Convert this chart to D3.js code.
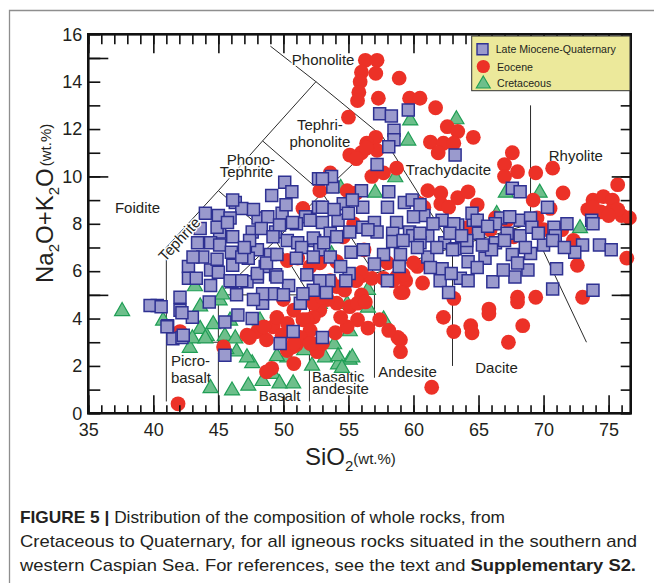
<!DOCTYPE html>
<html>
<head>
<meta charset="utf-8">
<script src="https://cdnjs.cloudflare.com/ajax/libs/d3/7.8.5/d3.min.js"></script>
<style>
  body { margin: 0; background: #fff; }
  svg { font-family: "Liberation Sans", Arial, Helvetica, sans-serif; }
</style>
</head>
<body>
<div id="root"></div>
<script>
// ---- data: [SiO2, Na2O+K2O] in wt.% ----
var miocenePts = [
  [57.4,12.65],[58.3,12.55],[59.6,12.8],[58.5,11.95],[58.5,11.55],[58.1,11.25],[57.2,10.5],[63.2,10.9],
  [52.7,9.9],[53.8,9.55],[53.7,10.0],[56.0,9.4],[58.1,9.35],[54.6,8.85],[56.1,8.7],[58.0,8.7],[59.3,8.9],
  [60.8,8.35],[62.2,8.15],[63.4,7.95],[64.6,8.15],[52.7,8.7],[51.7,8.3],[53.0,8.05],[54.2,8.15],[55.0,8.45],
  [56.1,7.85],[57.0,8.05],[58.7,8.05],[59.7,7.65],[58.4,7.6],[67.6,9.5],[68.2,9.35],[70.3,8.7],[73.7,8.15],
  [64.5,8.45],[64.9,8.15],[66.7,8.25],[68.2,8.15],[69.0,8.25],[70.8,7.85],[59.9,9.0],[66.3,8.0],[67.4,8.3],
  [70.9,7.5],[73.0,7.1],[74.3,7.1],[75.2,6.9],[72.4,6.8],[59.95,7.5],[61.1,7.5],[62.4,7.2],[63.2,6.95],
  [64.1,7.0],[65.0,7.6],[66.3,7.2],[67.2,7.6],[68.2,7.5],[69.1,7.85],[70.0,7.1],[70.7,7.3],[69.0,6.75],
  [67.6,6.7],[65.5,6.55],[64.2,6.4],[63.0,6.9],[61.1,6.6],[62.2,6.1],[62.05,5.6],[62.7,5.1],[66.1,5.55],
  [67.8,5.75],[68.8,6.05],[71.0,6.1],[70.7,5.25],[73.8,5.2],[58.0,5.6],[60.5,7.2],[58.4,7.25],[57.7,6.7],
  [64.9,6.15],[66.9,6.05],[68.0,6.35],[73.8,8.0],[55.2,6.8],[55.05,5.9],[53.5,5.6],[51.8,5.85],[52.4,7.3],
  [53.6,7.6],[60.5,7.6],[63.1,8.0],[64.1,7.3],[57.2,7.65],[63.6,5.7],[61.3,6.15],
  [50.1,9.75],[50.65,9.35],[49.1,9.2],[46.3,8.9],[46.8,8.65],[44.0,8.45],[45.0,8.35],[45.9,8.25],[48.05,8.25],
  [48.8,8.3],[49.9,8.45],[51.0,8.0],[52.05,8.15],[53.0,8.7],[53.0,9.9],[45.1,7.65],[46.1,7.45],[47.6,7.65],
  [49.4,7.65],[50.3,7.3],[51.1,7.2],[52.3,7.4],[52.8,6.9],[44.4,7.2],[45.1,7.1],[46.0,6.8],[48.0,6.9],
  [49.0,6.7],[43.8,6.6],[42.7,6.2],[42.7,5.7],[44.4,6.05],[46.1,6.25],[47.3,6.55],[48.6,6.2],[48.0,5.75],
  [49.4,5.85],[50.4,5.4],[52.8,5.6],[44.4,5.4],[46.05,5.55],[47.2,5.55],[46.4,5.0],[48.4,4.65],[49.2,5.05],
  [51.3,4.65],[52.3,5.2],[40.3,4.55],[39.75,4.55],[42.05,4.9],[42.05,4.35],[43.0,4.05],[41.1,3.7],[41.5,3.15],
  [42.2,3.2],[45.5,3.85],[46.5,4.15],[47.6,4.0],[45.5,2.45],[50.75,3.45],[49.75,2.95],[53.0,3.2],[43.6,7.8],
  [44.9,7.85],[45.7,8.05],[49.7,7.95],[50.7,8.05],[60.5,8.8],[43.05,6.6],[43.3,5.7],[45.0,5.95],[45.9,5.6],
  [46.8,6.6],[47.4,7.3],[48.3,7.8],[49.2,7.45],[51.4,7.0],[53.1,7.2],[54.1,7.45],[55.1,7.65],[56.5,7.75],
  [59.2,7.3],[46.8,5.6],[48.0,5.9],[48.7,6.35],[49.5,6.7],[51.0,6.55],[52.3,6.6],[56.15,6.9],[59.0,6.7],
  [60.3,7.0],[48.4,5.05],[49.5,5.75],[51.5,5.05],[42.2,4.25],[42.3,3.3],[41.05,3.65],[40.6,4.5],[46.1,9.0],
  [44.9,6.5],[47.0,7.0],[53.6,6.6],[54.4,6.2],[53.9,8.6],[55.3,9.0],[47.7,8.6],[50.2,8.8],[43.4,7.2],
  [44.3,4.7],[47.7,4.8],[50.0,5.0],[53.3,5.1],[54.8,5.6],[57.0,6.3],[58.9,6.2],[61.8,7.0],[62.8,7.6],
  [65.7,7.9],[66.0,6.9],[67.0,7.3],[68.6,7.0],[69.6,7.6],[71.6,7.0],[71.8,8.0],[65.3,7.1],[63.7,7.5],
  [61.5,8.0],[60.0,8.3],[62.9,5.9],[64.2,5.6]
];
var eocenePts = [
  [56.3,14.9],[57.2,14.9],[56.0,14.4],[57.1,14.35],[58.9,14.15],[55.9,14.0],[55.8,13.55],[55.7,13.2],
  [57.3,13.3],[59.7,13.3],[60.5,13.3],[61.7,12.9],[55.0,12.5],[62.6,12.1],[63.4,11.9],[64.6,11.65],
  [61.3,11.45],[62.3,11.4],[63.1,11.4],[61.9,11.0],[57.1,11.65],[56.4,11.4],[56.0,11.0],[55.1,10.9],
  [55.6,10.75],[57.2,11.1],[56.4,11.2],[58.7,10.35],[56.8,10.0],[57.7,10.15],[53.6,10.15],[52.8,9.4],
  [61.1,9.4],[62.1,9.3],[63.4,9.1],[64.2,9.35],[60.8,8.7],[62.1,8.85],[67.6,11.0],[67.0,10.5],[68.0,10.2],
  [69.4,10.15],[70.7,10.35],[67.0,10.0],[71.5,9.3],[75.7,9.65],[69.2,9.0],[73.8,9.0],[74.6,9.15],[75.3,9.0],
  [75.1,8.5],[76.0,8.35],[76.6,8.25],[73.4,8.6],[74.4,8.5],[76.4,6.55],[73.0,4.9],[69.4,4.9],[68.0,4.9],
  [68.0,4.7],[68.4,3.7],[67.3,3.0],[65.8,4.2],[64.4,3.7],[64.5,3.4],[63.1,4.85],[62.3,4.05],[63.1,3.45],
  [61.4,1.1],[59.0,2.6],[59.0,3.1],[58.8,3.2],[58.1,3.5],[56.0,5.8],[56.8,5.7],[58.7,5.75],[59.4,5.6],
  [59.2,5.1],[56.0,5.0],[57.4,3.95],[56.5,3.6],[55.7,3.95],[54.9,3.65],[54.0,3.4],[54.1,4.65],[53.4,4.8],
  [52.8,4.35],[52.3,4.05],[51.8,3.95],[55.1,4.5],[54.4,4.05],[52.6,2.65],[55.7,4.65],[56.3,4.7],[41.9,0.4],
  [47.2,3.3],[45.4,2.8],[48.0,3.45],[48.7,3.1],[49.1,1.9],[48.7,1.75],[50.8,2.1],[50.3,2.65],[51.0,2.9],
  [52.6,2.6],[53.0,2.95],[49.2,3.65],[49.9,3.3],[50.7,2.8],[52.2,2.95],[42.05,3.45],[50.0,4.8],[50.8,4.35],
  [51.5,3.95],[52.3,4.65],[53.0,4.9],[52.05,3.5],[51.3,3.2],[49.5,4.05],[50.3,3.8],[48.5,3.65],[50.3,6.45],
  [51.1,6.55],[52.8,6.35],[51.5,8.65],[54.9,9.4],[55.6,9.3],[55.4,8.0],[56.2,6.9],[56.0,5.95],[52.05,6.2],
  [54.1,5.35],[55.6,5.6],[57.7,5.7],[59.2,5.85],[60.3,6.2],[60.7,5.5],[62.7,8.7],[60.5,8.85],[73.8,8.7],
  [75.7,8.6],[75.0,8.35],[71.4,7.75],[72.3,7.3],[72.6,6.25],[65.8,4.4],[58.4,5.6],[59.0,5.1],[58.0,6.35],
  [60.0,6.35],[65.9,7.75],[66.3,8.25],[64.9,8.8],[67.2,8.15],[70.0,7.75],[70.5,8.65],[69.5,8.25],[67.7,7.45],
  [64.2,7.85],[54.6,7.45],[52.7,7.2],[54.1,6.4],[53.6,5.6],[54.7,5.2],[47.4,3.2],[50.8,2.95],[52.05,2.95]
];
var cretaceousPts = [
  [37.6,4.35],[40.75,3.95],[43.6,4.55],[45.1,4.8],[44.6,3.8],[43.6,3.6],[44.1,3.3],[42.8,2.8],[46.4,2.65],
  [47.6,2.15],[48.4,1.4],[49.2,1.7],[47.3,1.2],[46.05,1.0],[44.4,1.1],[50.75,1.3],[50.3,2.4],[52.2,2.05],
  [53.2,2.4],[48.2,3.95],[45.9,3.95],[43.0,3.2],[44.0,3.2],[45.5,3.3],[49.7,1.3],[54.2,2.1],[55.1,2.3],
  [57.7,4.0],[52.8,4.65],[54.9,4.65],[53.7,6.75],[56.5,5.25],[56.5,4.5],[55.1,3.5],[53.9,2.95],[54.2,2.45],
  [55.3,2.4],[54.5,1.95],[51.6,2.7],[59.75,12.4],[63.3,12.45],[59.6,11.55],[58.6,10.0],[57.05,9.35],
  [54.4,9.55],[69.7,9.35],[67.1,9.35],[72.8,7.85],[66.4,8.45],[43.2,5.4],[45.3,5.05],[45.6,2.75],[46.3,3.2],
  [47.2,2.4],[49.5,2.45]
];
var seriesNames = ["Late Miocene-Quaternary", "Eocene", "Cretaceous"];
var xMinorTicks = d3.range(35, 77, 1);
var xMajorTicks = [35, 40, 45, 50, 55, 60, 65, 70, 75];
var yMinorTicks = d3.range(0, 17, 1);
var yLongTicks = [5, 10, 15];
var yLabelTicks = [0, 2, 4, 6, 8, 10, 12, 14, 16];

// TAS field boundaries (SiO2, alkali)
var tasLines = [
  [[41,0.5],[41,7],[45,9.4],[48.4,11.5],[52.5,14],[57.6,11.7],[63,7],[69,8],[73.3,3]],
  [[52.5,14],[49,15.5]],
  [[48.4,11.5],[53,9.3],[57.6,11.7]],
  [[45,9.4],[49.4,7.3],[53,9.3],[57,5.9],[57,1.5]],
  [[41,3],[45,3]],
  [[45,0],[45,5],[49.4,7.3],[52,5],[52,0.5]],
  [[45,5],[52,5],[57,5.9],[63,7],[63,2]],
  [[69,8],[69,13]]
];
var fieldNames = [
  {t: "Phonolite", x: 50.65, y: 14.7, a: "start"},
  {t: "Tephri-", x: 52.8, y: 11.95, a: "middle"},
  {t: "phonolite", x: 52.8, y: 11.25, a: "middle"},
  {t: "Phono-", x: 47.5, y: 10.48, a: "middle"},
  {t: "Tephrite", x: 47.15, y: 9.96, a: "middle"},
  {t: "Foidite", x: 37.05, y: 8.44, a: "start"},
  {t: "Trachydacite", x: 59.4, y: 10.05, a: "start"},
  {t: "Rhyolite", x: 70.4, y: 10.66, a: "start"},
  {t: "Picro-", x: 41.35, y: 2.0, a: "start"},
  {t: "basalt", x: 41.35, y: 1.3, a: "start"},
  {t: "Basalt", x: 48.1, y: 0.5, a: "start"},
  {t: "Basaltic", x: 52.2, y: 1.32, a: "start"},
  {t: "andesite", x: 52.2, y: 0.8, a: "start"},
  {t: "Andesite", x: 57.3, y: 1.54, a: "start"},
  {t: "Dacite", x: 64.75, y: 1.71, a: "start"}
];

var w = 654, h = 583;
var svg = d3.select("#root").append("svg").attr("width", w).attr("height", h);
svg.append("rect").attr("width", w).attr("height", h).attr("fill", "white");

// figure frame
svg.append("path").attr("d", "M9.5,583V10.5H654").attr("fill", "none").attr("stroke", "#8e8e8e").attr("stroke-width", 1.3);

var xScale = d3.scaleLinear().domain([35, 76.7]).range([88.3, 630.7]);
var yScale = d3.scaleLinear().domain([0, 16]).range([413.3, 34.3]);

// boundaries
var line = d3.line().x(function(d) { return xScale(d[0]); }).y(function(d) { return yScale(d[1]); });
svg.append("g").selectAll("path").data(tasLines).enter().append("path")
  .attr("d", line).attr("fill", "none").attr("stroke", "#2b2b2b").attr("stroke-width", 1);

// field names
svg.append("g").selectAll("text").data(fieldNames).enter().append("text")
  .attr("x", function(d) { return xScale(d.x); })
  .attr("y", function(d) { return yScale(d.y); })
  .attr("text-anchor", function(d) { return d.a; })
  .attr("font-size", 15).attr("fill", "#231f20")
  .attr("stroke", "white").attr("stroke-width", 3).attr("paint-order", "stroke")
  .text(function(d) { return d.t; });

// points: triangles, circles, squares
var tri = d3.symbol().type(d3.symbolTriangle).size(98);
var sq = d3.symbol().type(d3.symbolSquare).size(144);
svg.append("g").selectAll("path").data(cretaceousPts).enter().append("path")
  .attr("d", tri)
  .attr("transform", function(d) { return "translate(" + xScale(d[0]) + "," + (yScale(d[1]) + 1) + ")"; })
  .attr("fill", "#6dbf8b").attr("stroke", "#1f9e55").attr("stroke-width", 1.2);
svg.append("g").selectAll("circle").data(eocenePts).enter().append("circle")
  .attr("cx", function(d) { return xScale(d[0]); })
  .attr("cy", function(d) { return yScale(d[1]); })
  .attr("r", 7.4).attr("fill", "#ec3127");
svg.append("g").selectAll("path").data(miocenePts).enter().append("path")
  .attr("d", sq)
  .attr("transform", function(d) { return "translate(" + xScale(d[0]) + "," + yScale(d[1]) + ")"; })
  .attr("fill", "#9a9acd").attr("stroke", "#2e3192").attr("stroke-width", 1.5);

// rotated Tephrite label sits over the points
svg.append("text")
  .attr("transform", "translate(" + xScale(42.3) + "," + yScale(7.2) + ") rotate(-47)")
  .attr("text-anchor", "middle").attr("font-size", 15).attr("fill", "#231f20")
  .attr("stroke", "white").attr("stroke-width", 2.5).attr("paint-order", "stroke")
  .text("Tephrite");

// axes (ticks inside)
function styleAxis(g, fs) {
  g.select(".domain").remove();
  g.selectAll("line").attr("stroke", "#111").attr("stroke-width", 1.6);
  g.attr("font-size", fs).attr("font-family", "'Liberation Sans', Arial, sans-serif");
  g.selectAll("text").attr("fill", "#231f20");
}
svg.append("g").attr("transform", "translate(0,413.3)")
  .call(d3.axisBottom(xScale).tickValues(xMinorTicks).tickSize(-8).tickSizeOuter(0).tickFormat(""))
  .call(styleAxis, 18);
svg.append("g").attr("transform", "translate(0,413.3)")
  .call(d3.axisBottom(xScale).tickValues(xMajorTicks).tickSize(-18).tickSizeOuter(0).tickPadding(10).tickFormat(d3.format("d")))
  .call(styleAxis, 18);
svg.append("g").attr("transform", "translate(0,34.3)")
  .call(d3.axisTop(xScale).tickValues(xMinorTicks).tickSize(-10).tickSizeOuter(0).tickFormat(""))
  .call(styleAxis, 18);
svg.append("g").attr("transform", "translate(0,34.3)")
  .call(d3.axisTop(xScale).tickValues(xMajorTicks).tickSize(-19).tickSizeOuter(0).tickFormat(""))
  .call(styleAxis, 18);
svg.append("g").attr("transform", "translate(88.3,0)")
  .call(d3.axisLeft(yScale).tickValues(yMinorTicks).tickSize(-12).tickSizeOuter(0).tickFormat(""))
  .call(styleAxis, 18);
svg.append("g").attr("transform", "translate(88.3,0)")
  .call(d3.axisLeft(yScale).tickValues(yLongTicks).tickSize(-20).tickSizeOuter(0).tickFormat(""))
  .call(styleAxis, 18);
svg.append("g").attr("transform", "translate(88.3,0)")
  .call(d3.axisLeft(yScale).tickValues(yLabelTicks).tickSize(0).tickSizeOuter(0).tickPadding(6).tickFormat(d3.format("d")))
  .call(styleAxis, 18);
svg.append("g").attr("transform", "translate(630.7,0)")
  .call(d3.axisRight(yScale).tickValues(yMinorTicks).tickSize(-10).tickSizeOuter(0).tickFormat(""))
  .call(styleAxis, 18);
svg.append("g").attr("transform", "translate(630.7,0)")
  .call(d3.axisRight(yScale).tickValues(yLongTicks).tickSize(-19).tickSizeOuter(0).tickFormat(""))
  .call(styleAxis, 18);

// plot frame
svg.append("rect").attr("x", 88.3).attr("y", 34.3).attr("width", 630.7 - 88.3).attr("height", 413.3 - 34.3)
  .attr("fill", "none").attr("stroke", "#111").attr("stroke-width", 2.6);

// legend
var lg = svg.append("g");
lg.append("rect").attr("x", 471.7).attr("y", 36).attr("width", 158.3).attr("height", 54.7)
  .attr("fill", "#ece99b").attr("stroke", "#333").attr("stroke-width", 1);
lg.append("path").attr("d", d3.symbol().type(d3.symbolSquare).size(121)).attr("transform", "translate(482.5,49.3)")
  .attr("fill", "#9a9acd").attr("stroke", "#2e3192").attr("stroke-width", 1.4);
lg.append("circle").attr("cx", 483.3).attr("cy", 66.5).attr("r", 6.6).attr("fill", "#ec3127");
lg.append("path").attr("d", d3.symbol().type(d3.symbolTriangle).size(85)).attr("transform", "translate(483.3,84)")
  .attr("fill", "#6dbf8b").attr("stroke", "#1f9e55").attr("stroke-width", 1.1);
lg.selectAll("text").data(seriesNames).enter().append("text")
  .attr("x", function(d, i) { return i == 0 ? 495.7 : 497; })
  .attr("y", function(d, i) { return [53, 70.5, 87][i]; })
  .attr("font-size", 10.6).attr("fill", "#231f20").text(function(d) { return d; });

// axis titles
var yt = svg.append("text").attr("transform", "translate(53,283) rotate(-90)").attr("fill", "#231f20").attr("font-size", 24);
yt.append("tspan").text("Na");
yt.append("tspan").attr("font-size", 15).attr("dy", 6).text("2");
yt.append("tspan").attr("dy", -6).text("O+K");
yt.append("tspan").attr("font-size", 15).attr("dy", 6).text("2");
yt.append("tspan").attr("dy", -6).text("O");
yt.append("tspan").attr("font-size", 15).attr("dx", 2).attr("dy", -2).text("(wt.%)");

var xt = svg.append("text").attr("x", 305).attr("y", 465).attr("fill", "#231f20").attr("font-size", 24);
xt.append("tspan").text("SiO");
xt.append("tspan").attr("font-size", 15).attr("dy", 6).text("2");
xt.append("tspan").attr("font-size", 15).attr("dy", -7).text("(wt.%)");

// caption
var c1 = svg.append("text").attr("x", 20).attr("y", 523).attr("font-size", 17).attr("fill", "#231f20")
  .attr("textLength", 485).attr("lengthAdjust", "spacingAndGlyphs");
c1.append("tspan").attr("font-weight", "bold").text("FIGURE 5 |");
c1.append("tspan").text(" Distribution of the composition of whole rocks, from");
svg.append("text").attr("x", 20).attr("y", 547).attr("font-size", 17).attr("fill", "#231f20")
  .attr("textLength", 617).attr("lengthAdjust", "spacingAndGlyphs")
  .text("Cretaceous to Quaternary, for all igneous rocks situated in the southern and");
var c3 = svg.append("text").attr("x", 20).attr("y", 571).attr("font-size", 17).attr("fill", "#231f20")
  .attr("textLength", 616).attr("lengthAdjust", "spacingAndGlyphs");
c3.append("tspan").text("western Caspian Sea. For references, see the text and ");
c3.append("tspan").attr("font-weight", "bold").text("Supplementary S2.");
</script>
</body>
</html>
